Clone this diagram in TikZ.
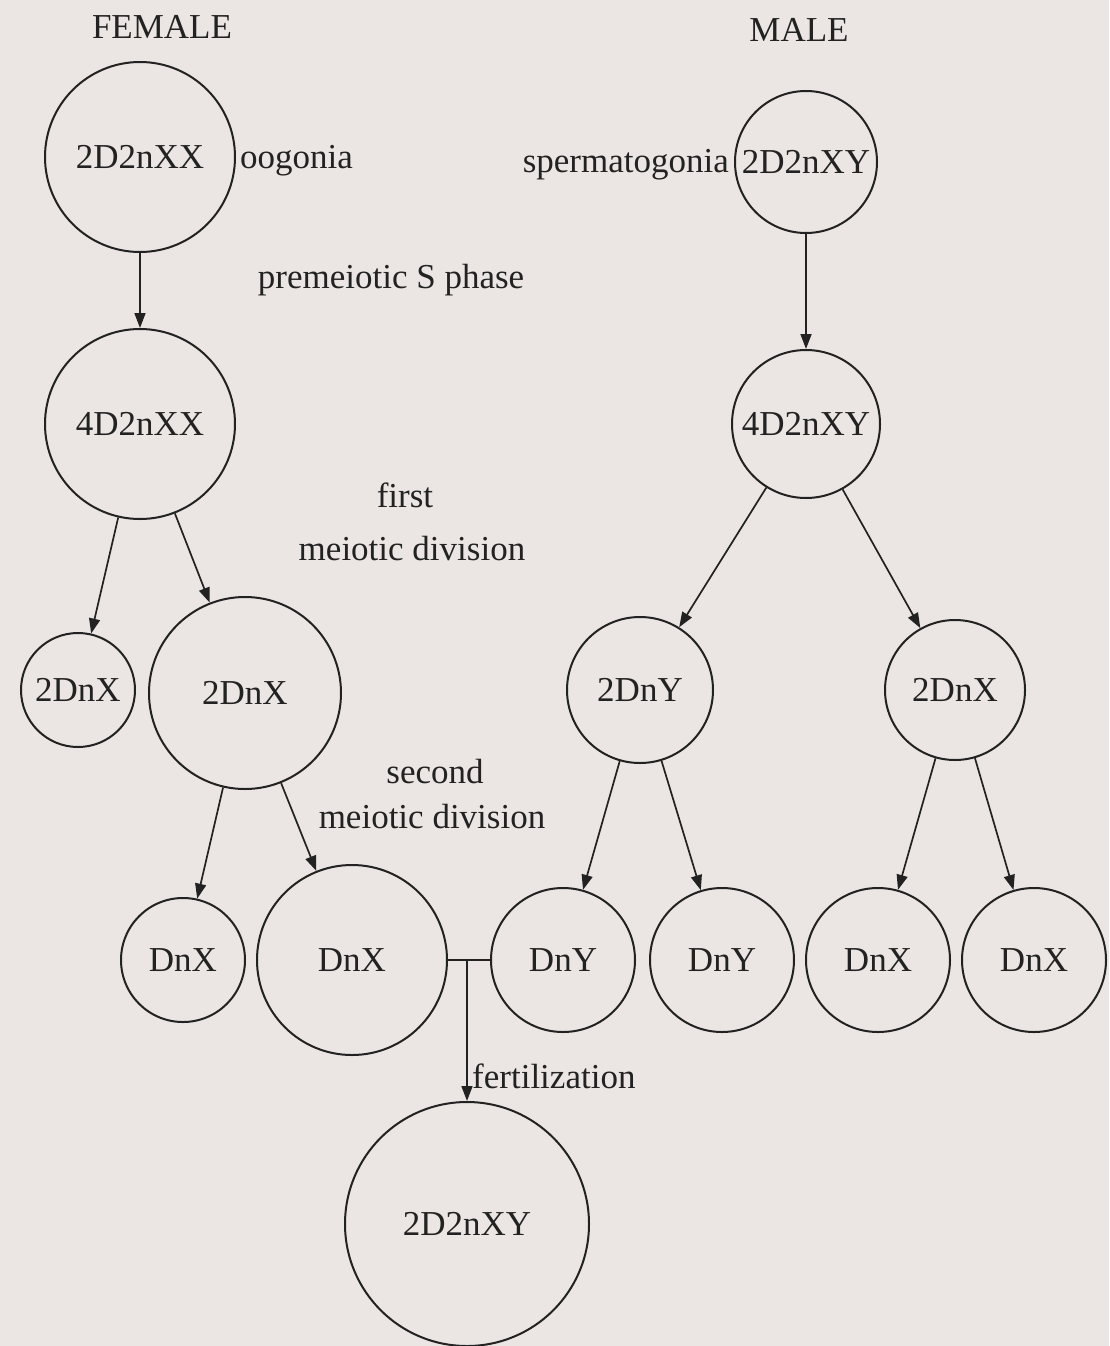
\documentclass[tikz,border=0pt]{standalone}
\usepackage{fontspec}
\setmainfont{Liberation Serif}
\usetikzlibrary{arrows.meta}
\definecolor{paper}{HTML}{EBE6E3}
\definecolor{ink}{HTML}{222222}
\begin{document}
\begin{tikzpicture}[x=1pt,y=-1pt,
  cell/.style={circle,draw=ink,line width=2pt,inner sep=0pt,text=ink,font=\fontsize{35}{40}\selectfont},
  lbl/.style={text=ink,font=\fontsize{35}{40}\selectfont,inner sep=0pt},
  link/.style={draw=ink,line width=1.7pt},
  arr/.style={link,-{Triangle[length=15pt,width=11pt]}}]
\fill[paper] (0,0) rectangle (1109,1346);
\useasboundingbox (0,0) rectangle (1109,1346);
% cells
\node[cell,minimum size=190pt] (f1) at (140,157) {2D2nXX};
\node[cell,minimum size=142pt] (m1) at (806,162) {2D2nXY};
\node[cell,minimum size=190pt] (f2) at (140,424) {4D2nXX};
\node[cell,minimum size=148pt] (m2) at (806,424) {4D2nXY};
\node[cell,minimum size=114pt] (f3a) at (78,690) {2DnX};
\node[cell,minimum size=192pt] (f3b) at (245,693) {2DnX};
\node[cell,minimum size=146pt] (m3a) at (640,690) {2DnY};
\node[cell,minimum size=140pt] (m3b) at (955,690) {2DnX};
\node[cell,minimum size=124pt] (f4a) at (183,960) {DnX};
\node[cell,minimum size=190pt] (f4b) at (352,960) {DnX};
\node[cell,minimum size=144pt] (m4a) at (563,960) {DnY};
\node[cell,minimum size=144pt] (m4b) at (722,960) {DnY};
\node[cell,minimum size=144pt] (m4c) at (878,960) {DnX};
\node[cell,minimum size=144pt] (m4d) at (1034,960) {DnX};
\node[cell,minimum size=244pt] (z) at (467,1224) {2D2nXY};
% labels
\node[lbl,anchor=base] (tf) at (162,39) {FEMALE};
\node[lbl,anchor=base] (tm) at (799,42) {MALE};
\node[lbl,anchor=base west] (oog) at (240,168) {oogonia};
\node[lbl,anchor=base east] (sp) at (729,172) {spermatogonia};
\node[lbl,anchor=base] (pm) at (391,288) {premeiotic S phase};
\node[lbl,anchor=base] (fi) at (405,507) {first};
\node[lbl,anchor=base] (md1) at (412,560) {meiotic division};
\node[lbl,anchor=base] (se) at (435,783) {second};
\node[lbl,anchor=base] (md2) at (432,828) {meiotic division};
\node[lbl,anchor=base west] (fe) at (472,1088) {fertilization};
% connectors
\draw[arr] (f1) -- (f2);
\draw[arr] (m1) -- (m2);
\draw[arr] (f2) -- (f3a);
\draw[arr] (f2) -- (f3b);
\draw[arr] (m2) -- (m3a);
\draw[arr] (m2) -- (m3b);
\draw[arr] (f3b) -- (f4a);
\draw[arr] (f3b) -- (f4b);
\draw[arr] (m3a) -- (m4a);
\draw[arr] (m3a) -- (m4b);
\draw[arr] (m3b) -- (m4c);
\draw[arr] (m3b) -- (m4d);
\draw[link] (f4b) -- (m4a);
\coordinate (j) at (467,960);
\draw[arr] (j) -- (z);
\end{tikzpicture}
\end{document}
